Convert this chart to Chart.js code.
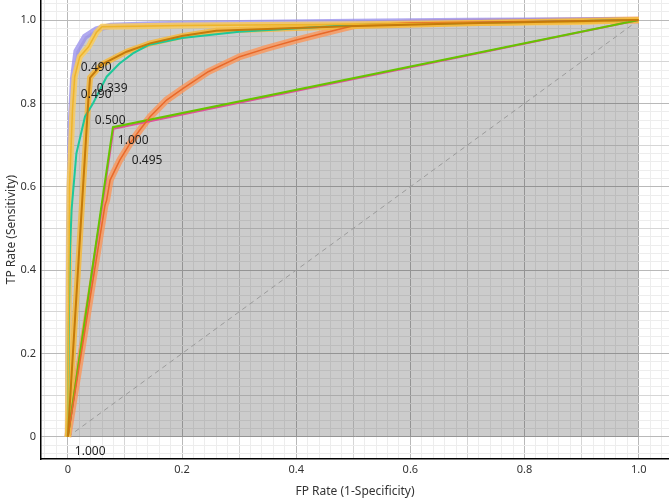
<!DOCTYPE html>
<html>
<head>
<meta charset="utf-8">
<script src="https://cdn.jsdelivr.net/npm/chart.js@4/dist/chart.umd.min.js"></script>
<style>
  html, body { margin: 0; padding: 0; background: #fff; overflow: hidden; }
  canvas { display: block; }
</style>
</head>
<body>
<canvas id="chart" width="669" height="501"></canvas>
<script>
// ROC curves, [FP rate, TP rate]
const curvePurple = [[0,0],[0.002,0.5],[0.005,0.75],[0.009,0.86],[0.015,0.925],[0.03,0.96],[0.05,0.978],[0.075,0.986],[0.15,0.99],[0.3,0.993],[0.5,0.996],[0.7,0.998],[1,1]];
const curveYellow = [[0,0],[0.003,0.6],[0.008,0.78],[0.012,0.864],[0.021,0.912],[0.036,0.935],[0.05,0.97],[0.06,0.984],[0.2,0.987],[0.5,0.99],[0.9,0.995],[1,1]];
const curveBrown = [[0,0],[0.036,0.81],[0.039,0.862],[0.059,0.893],[0.103,0.924],[0.144,0.944],[0.202,0.962],[0.26,0.974],[0.4,0.981],[0.49,0.985],[0.7,0.992],[1,1]];
const curveTeal = [[0,0],[0.002,0.3],[0.004,0.45],[0.0065,0.544],[0.015,0.68],[0.03,0.768],[0.044,0.8],[0.068,0.864],[0.09,0.895],[0.114,0.92],[0.141,0.94],[0.2,0.957],[0.3,0.972],[0.5,0.988],[1,1]];
const curveOrange = [[0,0],[0.065,0.555],[0.068,0.568],[0.074,0.616],[0.091,0.664],[0.109,0.704],[0.126,0.736],[0.144,0.768],[0.173,0.808],[0.202,0.836],[0.246,0.876],[0.301,0.912],[0.348,0.932],[0.4,0.952],[0.447,0.968],[0.482,0.98],[0.506,0.988],[0.6,0.993],[1,1]];
const curveGreen = [[0,0],[0.079,0.743],[1,1]];
const curvePink = [[0,0],[0.08,0.739],[1,1]];
const chance = [[0,0],[1,1]];

// threshold labels and where they sit (data coords)
const thrText = ['0.490', '0.490', '0.339', '0.500', '1.000', '0.495', '1.000'];
const thrFpr  = [0.0228, 0.0228, 0.0508, 0.0473, 0.0876, 0.112, 0.0123];
const thrTpr  = [0.887, 0.820, 0.835, 0.758, 0.710, 0.662, -0.036];

const tickValues = [0, 0.2, 0.4, 0.6, 0.8, 1.0];
const tickLabels = ['0', '0.2', '0.4', '0.6', '0.8', '1.0'];

const FONT = '"Noto Sans", "Open Sans", sans-serif';

function pts(c) { return c.map(p => ({ x: p[0], y: p[1] })); }

function gridTicks(scale) {
  const t = [];
  for (let i = -2; i <= 52; i++) t.push({ value: Math.round(i * 2) / 100 });
  scale.ticks = t;
}
function tickLabel(v) {
  const i = tickValues.findIndex(tv => Math.abs(tv - v) < 1e-6);
  return i >= 0 ? tickLabels[i] : '';
}
function gridColor(ctx) {
  if (!ctx.tick) return 'rgba(0,0,0,0)';
  const v = Math.round(ctx.tick.value * 100);
  if (v % 20 === 0) return '#b9b9b9';
  if (v % 10 === 0) return '#d6d6d6';
  return '#ededed';
}

const labelPlugin = {
  id: 'thrLabels',
  afterDatasetsDraw(chart) {
    const c = chart.ctx, xs = chart.scales.x, ys = chart.scales.y;
    c.save();
    c.font = '12px ' + FONT;
    c.fillStyle = '#222';
    c.textAlign = 'left';
    c.textBaseline = 'middle';
    thrText.forEach((t, i) => {
      c.fillText(t, xs.getPixelForValue(thrFpr[i]), ys.getPixelForValue(thrTpr[i]));
    });
    c.restore();
  }
};

function line(data, color, width, order, extra) {
  return Object.assign({
    data: pts(data), showLine: true, borderColor: color, borderWidth: width,
    pointRadius: 0, fill: false, order: order, tension: 0
  }, extra || {});
}

const ctx = document.getElementById('chart').getContext('2d');
const chart = new Chart(ctx, {
  type: 'scatter',
  data: {
    datasets: [
      line(curveBrown, '#c47a0a', 2, 1),
      line(curveYellow, '#eeb52a', 1.5, 2),
      line(curveOrange, '#e8692a', 1.5, 3),
      line(curveTeal, '#1ec89a', 2, 4),
      line(curveGreen, '#66c400', 2, 5),
      line(curvePink, '#e0509a', 2, 6),
      line(curveBrown, 'rgba(245,185,60,0.85)', 6, 7),
      line(curveYellow, 'rgba(250,205,90,0.85)', 6, 8),
      line(curvePurple, 'rgba(150,140,235,0.75)', 6, 9),
      line(curveOrange, 'rgba(250,150,90,0.8)', 7, 10),
      line(chance, '#9a9a9a', 1, 11, { borderDash: [5, 4] }),
      line(curvePurple, 'rgba(0,0,0,0)', 1, 12, { fill: 'origin', backgroundColor: 'rgba(0,0,0,0.2)' })
    ]
  },
  options: {
    responsive: false,
    animation: false,
    layout: { padding: 0 },
    plugins: { legend: { display: false }, tooltip: { enabled: false } },
    scales: {
      x: {
        type: 'linear', min: -0.047, max: 1.053,
        afterBuildTicks: gridTicks,
        afterFit: s => { s.height = 42; s.paddingLeft = 0; s.paddingRight = 0; },
        border: { color: '#000', width: 1.5 },
        grid: { color: gridColor, drawTicks: false, lineWidth: 1 },
        ticks: { autoSkip: false, maxRotation: 0, padding: 4, color: '#333',
                 font: { family: FONT, size: 11 }, callback: tickLabel },
        title: { display: true, text: 'FP Rate (1-Specificity)', color: '#333',
                 font: { family: FONT, size: 12 }, padding: { top: 0, bottom: 2 } }
      },
      y: {
        type: 'linear', min: -0.053, max: 1.048,
        afterBuildTicks: gridTicks,
        afterFit: s => { s.width = 41; s.paddingTop = 0; s.paddingBottom = 0; },
        border: { color: '#000', width: 1.5 },
        grid: { color: gridColor, drawTicks: false, lineWidth: 1 },
        ticks: { autoSkip: false, padding: 5, color: '#333',
                 font: { family: FONT, size: 11 }, callback: tickLabel },
        title: { display: true, text: 'TP Rate (Sensitivity)', color: '#333',
                 font: { family: FONT, size: 12 }, padding: { top: 4, bottom: 0 } }
      }
    }
  },
  plugins: [labelPlugin]
});
</script>
</body>
</html>
